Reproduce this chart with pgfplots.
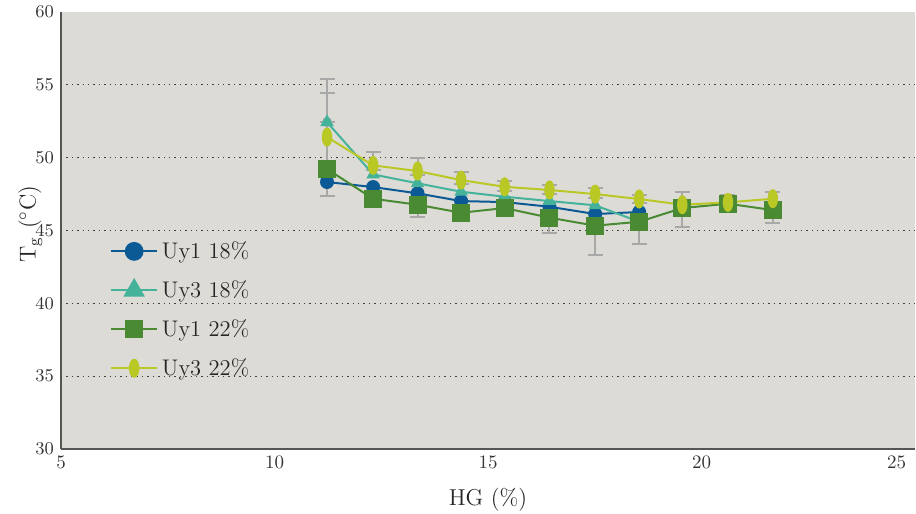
\documentclass[border=0pt]{standalone}
\usepackage{pgfplots}
\pgfplotsset{compat=1.18}
\definecolor{bg}{RGB}{220,219,214}
\definecolor{cblue}{RGB}{11,90,150}
\definecolor{cteal}{RGB}{69,179,154}
\definecolor{cgreen}{RGB}{74,138,50}
\definecolor{cyel}{RGB}{186,200,38}
\definecolor{errgray}{RGB}{168,168,168}
\definecolor{axgray}{RGB}{85,85,85}
\begin{document}
\begin{tikzpicture}
\begin{axis}[
  name=ax, scale only axis, width=427pt, height=218.5pt,
  xmin=5, xmax=25, ymin=30, ymax=60,
  xtick={5,10,...,25}, xticklabels={5,10,15,20,\llap{25\hspace{4.5pt}}},
  ytick={30,35,...,60},
  extra y ticks={35,40,45,50,55}, extra y tick labels={},
  extra y tick style={grid=major},
  major grid style={black!75, line width=0.6pt, dash pattern=on 0.7pt off 2pt},
  major tick length=0pt,
  axis x line*=bottom, axis y line*=left,
  axis line style={axgray, line width=0.9pt, -},
  axis background/.style={fill=bg},
  tick label style={font=\fontsize{9.5}{11}\selectfont, text=black!80},
  xlabel={HG (\%)},
  ylabel={T$_\mathrm{g}$ ($^\circ$C)},
  label style={font=\fontsize{11.5}{13}\selectfont, text=black!85},
  xlabel style={at={(axis description cs:0.5,-0.117)}, anchor=center},
  ylabel style={at={(axis description cs:-0.036,0.515)}, anchor=center},
  legend cell align=left,
  legend style={at={(0,1)}, anchor=north west, xshift=24.5pt, yshift=-112.5pt,
    draw=none, fill=none, inner sep=0pt, row sep=5.5pt,
    font=\fontsize{11.3}{13}\selectfont, text=black!85},
  legend image code/.code={\draw[mark repeat=2,mark phase=2] plot coordinates {(0cm,0cm) (0.4cm,0cm) (0.8cm,0cm)};},
  every axis plot/.append style={line width=1pt},
]
\addlegendimage{cblue, mark=*, mark size=4.2pt, mark options={solid}}
\addlegendentry{Uy1 18\%}
\addlegendimage{cteal, mark=triangle*, mark size=5.2pt, mark options={solid}}
\addlegendentry{Uy3 18\%}
\addlegendimage{cgreen, mark=square*, mark size=4pt, mark options={solid}}
\addlegendentry{Uy1 22\%}
\addlegendimage{cyel, mark=*, mark size=4.25pt, mark options={solid, xscale=0.5}}
\addlegendentry{Uy3 22\%}

% error bars (drawn behind everything)
\addplot[errgray, only marks, mark=none, forget plot,
  error bars/.cd, y dir=both, y explicit,
  error bar style={line width=1pt, errgray},
  error mark options={rotate=90, errgray, mark size=3.75pt, line width=1pt}]
coordinates {
  (11.23,51.41) += (0,3.99) -= (0,4.05)
  (11.23,52.44) += (0,2.01) -= (0,0)
  (12.31,49.47) += (0,0.89) -= (0,0.3)
  (13.35,49.08) += (0,0.87) -= (0,0.3)
  (13.35,46.77) += (0,0.3) -= (0,0.85)
  (14.37,48.46) += (0,0.53) -= (0,0.3)
  (15.39,48.00) += (0,0.39) -= (0,0.3)
  (16.44,47.78) += (0,0.34) -= (0,0.3)
  (16.44,45.88) += (0,0.3) -= (0,1.08)
  (17.51,47.50) += (0,0.39) -= (0,0.3)
  (17.51,45.33) += (0,0.3) -= (0,2.04)
  (18.54,47.16) += (0,0.25) -= (0,0.3)
  (18.54,45.60) += (0,0.3) -= (0,1.55)
  (19.55,46.77) += (0,0.85) -= (0,1.55)
  (20.62,46.93) += (0,0.52) -= (0,0.69)
  (21.67,47.18) += (0,0.44) -= (0,1.69)
};

% Uy1 18%
\addplot[cblue, mark=*, mark size=3pt, mark options={solid}, forget plot] coordinates {
  (11.23,48.33) (12.31,47.98) (13.35,47.55) (14.37,47.02) (15.39,46.95)
  (16.44,46.63) (17.51,46.13) (18.54,46.27)
};
% Uy3 18%
\addplot[cteal, mark=triangle*, mark size=2.9pt, mark options={solid}, forget plot] coordinates {
  (11.23,52.44) (12.31,48.85) (13.35,48.24) (14.37,47.66) (15.39,47.32)
  (16.44,47.02) (17.51,46.73) (18.54,45.60)
};
% Uy1 22%
\addplot[cgreen, mark=square*, mark size=4pt, mark options={solid}, forget plot] coordinates {
  (11.23,49.22) (12.31,47.18) (13.35,46.77) (14.37,46.22) (15.39,46.54)
  (16.44,45.88) (17.51,45.33) (18.54,45.60) (19.55,46.54) (20.62,46.84)
  (21.67,46.40)
};
% Uy3 22%
\addplot[cyel, mark=*, mark size=4.25pt, mark options={solid, xscale=0.5}, forget plot] coordinates {
  (11.23,51.41) (12.31,49.47) (13.35,49.08) (14.37,48.46) (15.39,48.00)
  (16.44,47.78) (17.51,47.50) (18.54,47.16) (19.55,46.77) (20.62,46.93)
  (21.67,47.18)
};
\end{axis}
\pgfresetboundingbox
\path[use as bounding box] ([xshift=-30.5pt,yshift=-32.5pt]ax.south west) rectangle ([xshift=0.5pt,yshift=6pt]ax.north east);
\end{tikzpicture}
\end{document}
